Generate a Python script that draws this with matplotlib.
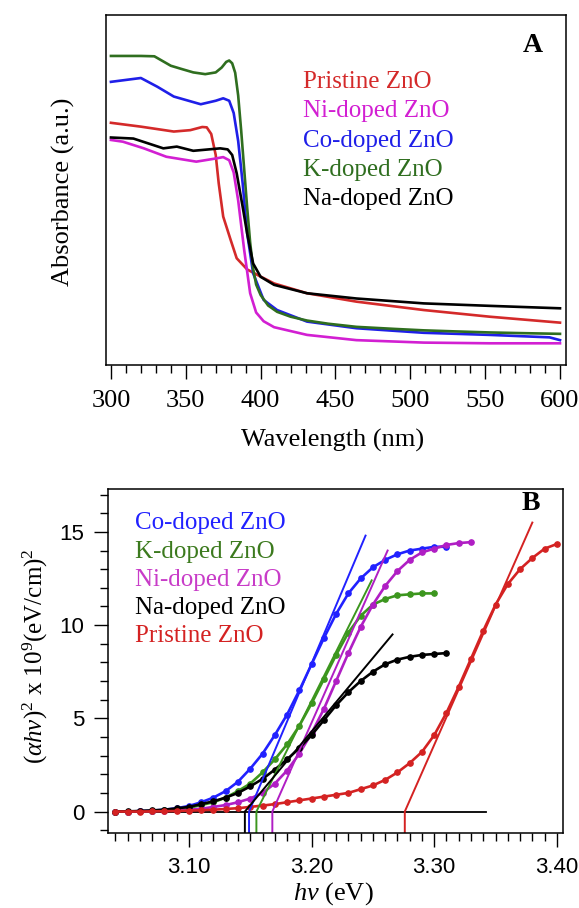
import matplotlib
matplotlib.use("Agg")
import matplotlib.pyplot as plt
from matplotlib.ticker import MultipleLocator, FixedLocator, NullLocator

plt.rcParams['font.family'] = ['Liberation Serif', 'DejaVu Serif']
plt.rcParams['mathtext.fontset'] = 'custom'
plt.rcParams['mathtext.rm'] = 'Liberation Serif'
plt.rcParams['mathtext.it'] = 'Liberation Serif:italic'

# ---- panel A: UV-vis absorbance (arbitrary units) ----
names_a = ['Pristine ZnO', 'Ni-doped ZnO', 'Co-doped ZnO', 'K-doped ZnO', 'Na-doped ZnO']
colors_a = ['#d42a2a', '#d21fd2', '#1f1fe8', '#2f6e1f', '#000000']

wl_pristine = [300, 320, 342, 353, 361, 364, 367, 370, 372, 375, 380, 384, 391, 398, 409, 431, 464, 509, 553, 600]
ab_pristine = [0.692, 0.681, 0.667, 0.671, 0.680, 0.679, 0.660, 0.600, 0.519, 0.424, 0.357, 0.305, 0.273, 0.257,
               0.233, 0.205, 0.181, 0.157, 0.138, 0.121]

wl_ni = [300, 308, 322, 337, 357, 370, 375, 379, 382, 385, 389, 393, 397, 402, 409, 431, 464, 509, 553, 600]
ab_ni = [0.643, 0.638, 0.619, 0.595, 0.581, 0.590, 0.594, 0.585, 0.550, 0.470, 0.329, 0.205, 0.150, 0.125,
         0.108, 0.086, 0.071, 0.064, 0.062, 0.062]

wl_co = [300, 320, 331, 342, 360, 370, 375, 379, 382, 385, 388, 391, 395, 402, 411, 431, 464, 509, 553, 593, 600]
ab_co = [0.809, 0.820, 0.795, 0.767, 0.745, 0.755, 0.762, 0.755, 0.720, 0.640, 0.519, 0.376, 0.262, 0.186,
         0.157, 0.124, 0.105, 0.092, 0.086, 0.079, 0.071]

wl_k = [300, 320, 329, 340, 347, 355, 363, 370, 374, 377, 379, 381, 383, 385, 387, 389, 391, 393, 395, 397,
        400, 405, 411, 420, 431, 445, 464, 490, 509, 530, 553, 575, 600]
ab_k = [0.883, 0.883, 0.882, 0.855, 0.846, 0.836, 0.831, 0.836, 0.850, 0.866, 0.870, 0.862, 0.835, 0.770,
        0.670, 0.560, 0.450, 0.350, 0.275, 0.230, 0.200, 0.170, 0.152, 0.138, 0.127, 0.118, 0.109,
        0.103, 0.099, 0.096, 0.093, 0.091, 0.089]

wl_na = [300, 315, 335, 344, 355, 373, 378, 381, 384, 388, 391, 395, 400, 409, 431, 464, 509, 553, 600]
ab_na = [0.650, 0.647, 0.619, 0.624, 0.612, 0.619, 0.616, 0.600, 0.548, 0.452, 0.376, 0.290, 0.252, 0.229,
         0.205, 0.190, 0.176, 0.169, 0.162]

# ---- panel B: Tauc plot (x 10^9 (eV/cm)^2) ----
hv_co = [3.04, 3.05, 3.06, 3.07, 3.08, 3.09, 3.10, 3.11, 3.12, 3.13, 3.14, 3.15, 3.16, 3.17, 3.18, 3.19,
         3.20, 3.21, 3.22, 3.23, 3.24, 3.25, 3.26, 3.27, 3.28, 3.29, 3.30, 3.31]
ah_co = [0.0, 0.0, 0.02, 0.05, 0.1, 0.18, 0.3, 0.5, 0.75, 1.1, 1.6, 2.3, 3.1, 4.1, 5.2, 6.5,
         7.9, 9.3, 10.6, 11.7, 12.5, 13.1, 13.5, 13.8, 14.0, 14.1, 14.2, 14.2]

hv_k = [3.04, 3.05, 3.06, 3.07, 3.08, 3.09, 3.10, 3.11, 3.12, 3.13, 3.14, 3.15, 3.16, 3.17, 3.18, 3.19,
        3.20, 3.21, 3.22, 3.23, 3.24, 3.25, 3.26, 3.27, 3.28, 3.29, 3.30]
ah_k = [0.0, 0.0, 0.02, 0.04, 0.08, 0.13, 0.2, 0.35, 0.5, 0.75, 1.1, 1.5, 2.1, 2.8, 3.6, 4.6,
        5.8, 7.1, 8.4, 9.6, 10.5, 11.1, 11.4, 11.6, 11.65, 11.7, 11.7]

hv_ni = [3.04, 3.05, 3.06, 3.07, 3.08, 3.09, 3.10, 3.11, 3.12, 3.13, 3.14, 3.15, 3.16, 3.17, 3.18, 3.19,
         3.20, 3.21, 3.22, 3.23, 3.24, 3.25, 3.26, 3.27, 3.28, 3.29, 3.30, 3.31, 3.32, 3.33]
ah_ni = [0.0, 0.0, 0.02, 0.03, 0.05, 0.07, 0.1, 0.15, 0.25, 0.35, 0.5, 0.7, 1.0, 1.5, 2.2, 3.1,
         4.2, 5.5, 7.0, 8.5, 9.9, 11.1, 12.1, 12.9, 13.5, 13.9, 14.1, 14.3, 14.4, 14.45]

hv_na = [3.04, 3.05, 3.06, 3.07, 3.08, 3.09, 3.10, 3.11, 3.12, 3.13, 3.14, 3.15, 3.16, 3.17, 3.18, 3.19,
         3.20, 3.21, 3.22, 3.23, 3.24, 3.25, 3.26, 3.27, 3.28, 3.29, 3.30, 3.31]
ah_na = [0.0, 0.01, 0.03, 0.06, 0.1, 0.17, 0.25, 0.4, 0.55, 0.75, 1.0, 1.35, 1.75, 2.25, 2.8, 3.4,
         4.1, 4.9, 5.7, 6.4, 7.0, 7.5, 7.9, 8.15, 8.3, 8.4, 8.45, 8.5]

hv_pr = [3.04, 3.05, 3.06, 3.07, 3.08, 3.09, 3.10, 3.11, 3.12, 3.13, 3.14, 3.15, 3.16, 3.17, 3.18, 3.19,
         3.20, 3.21, 3.22, 3.23, 3.24, 3.25, 3.26, 3.27, 3.28, 3.29, 3.30, 3.31, 3.32, 3.33, 3.34, 3.35,
         3.36, 3.37, 3.38, 3.39, 3.40]
ah_pr = [0.0, 0.0, 0.0, 0.01, 0.02, 0.03, 0.05, 0.07, 0.1, 0.14, 0.18, 0.25, 0.32, 0.4, 0.5, 0.6,
         0.7, 0.8, 0.9, 1.0, 1.2, 1.4, 1.7, 2.1, 2.6, 3.2, 4.1, 5.3, 6.7, 8.2, 9.7, 11.1,
         12.2, 13.0, 13.6, 14.1, 14.35]

names_b = ['Co-doped ZnO', 'K-doped ZnO', 'Ni-doped ZnO', 'Na-doped ZnO', 'Pristine ZnO']
colors_b = ['#2121ff', '#3c961e', '#b01ec4', '#000000', '#d42222']
legend_colors_b = ['#2121ff', '#3c7a1e', '#c83cc8', '#000000', '#d42222']

# band-gap intercepts and upper end of each tangent line
eg = [3.149, 3.155, 3.168, 3.1456, 3.276]
fit_end_x = [3.244, 3.249, 3.262, 3.266, 3.380]
fit_end_y = [14.8, 12.4, 14.0, 9.5, 15.5]

W, H = 579, 908
fig = plt.figure(figsize=(W / 100, H / 100), dpi=100)

# ------------------------ panel A ------------------------
ax1 = fig.add_axes([106 / W, 1 - 365 / H, 460 / W, 350 / H])
series_a = [(wl_pristine, ab_pristine), (wl_ni, ab_ni), (wl_co, ab_co), (wl_k, ab_k), (wl_na, ab_na)]
for (x, y), c in zip(series_a, colors_a):
    ax1.plot(x, y, color=c, lw=1.9)
ax1.set_xlim(296.7, 604)
ax1.set_ylim(0, 1)
ax1.xaxis.set_major_locator(MultipleLocator(50))
ax1.xaxis.set_minor_locator(MultipleLocator(10))
ax1.yaxis.set_major_locator(NullLocator())
ax1.tick_params(axis='x', which='major', direction='out', length=10, width=1.0, labelsize=19, pad=8)
ax1.tick_params(axis='x', which='minor', direction='out', length=5.5, width=1.0)
for s in ax1.spines.values():
    s.set_linewidth(1.1)
for i, (n, c) in enumerate(zip(names_a, colors_a)):
    ax1.text(0.428, 0.809 - i * 0.0838, n, color=c, fontsize=18, transform=ax1.transAxes,
             ha='left', va='center')
ax1.text(0.928, 0.914, 'A', fontsize=20, fontweight='bold', transform=ax1.transAxes,
         ha='center', va='center')
fig.text(333 / W, 1 - 440 / H, 'Wavelength (nm)', fontsize=19, ha='center', va='center')
fig.text(63 / W, 1 - 192 / H, 'Absorbance (a.u.)', fontsize=19, ha='center', va='center', rotation=90)

# ------------------------ panel B ------------------------
ax2 = fig.add_axes([108 / W, 1 - 833 / H, 455 / W, 344 / H])
ax2.plot([3.04, 3.342], [0, 0], color='black', lw=1.3)
series_b = [(hv_co, ah_co), (hv_k, ah_k), (hv_ni, ah_ni), (hv_na, ah_na), (hv_pr, ah_pr)]
for (x, y), c in zip(series_b, colors_b):
    ax2.plot(x, y, color=c, lw=1.9, marker='o', ms=3.8)
ymin = -1.15
for e, xe, ye, c in zip(eg, fit_end_x, fit_end_y, colors_b):
    ax2.plot([e, e, xe], [ymin, 0, ye], color=c, lw=1.4)
ax2.set_xlim(3.034, 3.405)
ax2.set_ylim(ymin, 17.3)
ax2.xaxis.set_major_locator(FixedLocator([3.10, 3.20, 3.30, 3.40]))
ax2.xaxis.set_minor_locator(MultipleLocator(0.01))
ax2.yaxis.set_major_locator(MultipleLocator(5))
ax2.yaxis.set_minor_locator(MultipleLocator(1))
ax2.set_xticklabels(['3.10', '3.20', '3.30', '3.40'], family='Liberation Sans')
ax2.set_yticks([0, 5, 10, 15])
ax2.set_yticklabels(['0', '5', '10', '15'], family='Liberation Sans')
ax2.tick_params(axis='both', which='major', direction='out', length=10, width=1.0, labelsize=16, pad=7)
ax2.tick_params(axis='both', which='minor', direction='out', length=5.5, width=1.0)
for s in ax2.spines.values():
    s.set_linewidth(1.1)
for i, (n, c) in enumerate(zip(names_b, legend_colors_b)):
    ax2.text(0.059, 0.900 - i * 0.0817, n, color=c, fontsize=18, transform=ax2.transAxes,
             ha='left', va='center')
ax2.text(0.930, 0.959, 'B', fontsize=20, fontweight='bold', transform=ax2.transAxes,
         ha='center', va='center')
fig.text(333 / W, 1 - 894 / H, r'$\mathit{hν}$ (eV)', fontsize=19, ha='center', va='center')
fig.text(35 / W, 1 - 656 / H, r'$(\mathit{αhν})^{2}$ x 10$^{9}$(eV/cm)$^{2}$', fontsize=18,
         ha='center', va='center', rotation=90)

fig.savefig('out.png', dpi=100)
